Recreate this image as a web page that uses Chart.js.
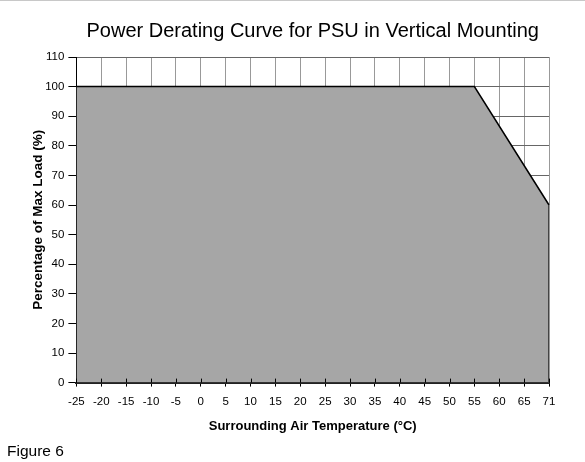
<!DOCTYPE html>
<html>
<head>
<meta charset="utf-8">
<script src="https://cdn.jsdelivr.net/npm/chart.js@4/dist/chart.umd.min.js"></script>
<style>
  html, body { margin: 0; padding: 0; background: #fff; }
  #wrap { position: relative; width: 585px; height: 462px; overflow: hidden; }
  #topline { position: absolute; left: 0; top: 0; width: 585px; height: 1px; background: #c8c8c8; }
  #c { position: absolute; left: 0; top: 0; }
  #fig { position: absolute; left: 7px; top: 442px; font: 15.5px Arial, "Liberation Sans", sans-serif; color: #000; }
</style>
</head>
<body>
<div id="wrap">
  <canvas id="c" width="585" height="462"></canvas>
  <div id="topline"></div>
  <div id="fig">Figure 6</div>
</div>
<script>
const temperatureLabels = ['-25','-20','-15','-10','-5','0','5','10','15','20','25','30','35','40','45','50','55','60','65','71'];
const maxLoadPercent = [100, null, null, null, null, null, null, null, null, null, null, null, null, null, null, null, 100, null, null, 60];
const yTicksMin = 0;
const yTicksMax = 110;
const yTickStep = 10;

const FONT = 'Arial, "Liberation Sans", sans-serif';

const crossTicks = {
  id: 'crossTicks',
  afterDatasetsDraw(chart) {
    const x = chart.scales.x;
    const ctx = chart.ctx;
    const bottom = chart.chartArea.bottom;
    ctx.save();
    ctx.strokeStyle = '#000';
    ctx.lineWidth = 1;
    x.ticks.forEach((t, i) => {
      const px = Math.round(x.getPixelForTick(i)) + 0.5;
      ctx.beginPath();
      ctx.moveTo(px, bottom - 4);
      ctx.lineTo(px, bottom);
      ctx.stroke();
    });
    const meta = chart.getDatasetMeta(0);
    const last = meta.data[meta.data.length - 1];
    ctx.strokeStyle = '#444';
    ctx.beginPath();
    ctx.moveTo(last.x - 0.5, last.y);
    ctx.lineTo(last.x - 0.5, bottom);
    ctx.stroke();
    ctx.restore();
  }
};

new Chart(document.getElementById('c'), {
  type: 'line',
  data: {
    labels: temperatureLabels,
    datasets: [{
      data: maxLoadPercent,
      borderColor: '#000',
      borderWidth: 1.5,
      backgroundColor: '#a6a6a6',
      fill: 'origin',
      spanGaps: true,
      pointRadius: 0,
      tension: 0
    }]
  },
  options: {
    responsive: false,
    animation: false,
    layout: { padding: { left: 26, right: 36, top: 19, bottom: 24 } },
    plugins: {
      legend: { display: false },
      tooltip: { enabled: false },
      title: {
        display: true,
        fullSize: false,
        text: 'Power Derating Curve for PSU in Vertical Mounting',
        color: '#000',
        font: { family: FONT, size: 20, weight: 'normal' },
        padding: { top: 0, bottom: 14 }
      }
    },
    scales: {
      x: {
        type: 'category',
        offset: false,
        grid: { color: '#999', lineWidth: 1, tickLength: 4, tickColor: '#000', drawTicks: true },
        border: { color: '#222', width: 2 },
        ticks: { color: '#000', font: { family: FONT, size: 11.5 }, maxRotation: 0, autoSkip: false, padding: 8 },
        title: {
          display: true,
          text: 'Surrounding Air Temperature (°C)',
          color: '#000',
          font: { family: FONT, size: 13, weight: 'bold' },
          padding: { top: 2, bottom: 4 }
        }
      },
      y: {
        min: yTicksMin,
        max: yTicksMax,
        grid: { color: '#666', lineWidth: 1, tickLength: 8, tickColor: '#000' },
        border: { color: '#000', width: 1 },
        ticks: { stepSize: yTickStep, color: '#000', font: { family: FONT, size: 11.5 }, padding: 4 },
        title: {
          display: true,
          text: 'Percentage of Max Load (%)',
          color: '#000',
          font: { family: FONT, size: 13.5, weight: 'bold' },
          padding: { top: 4, bottom: -5 }
        }
      }
    }
  },
  plugins: [crossTicks]
});
</script>
</body>
</html>
